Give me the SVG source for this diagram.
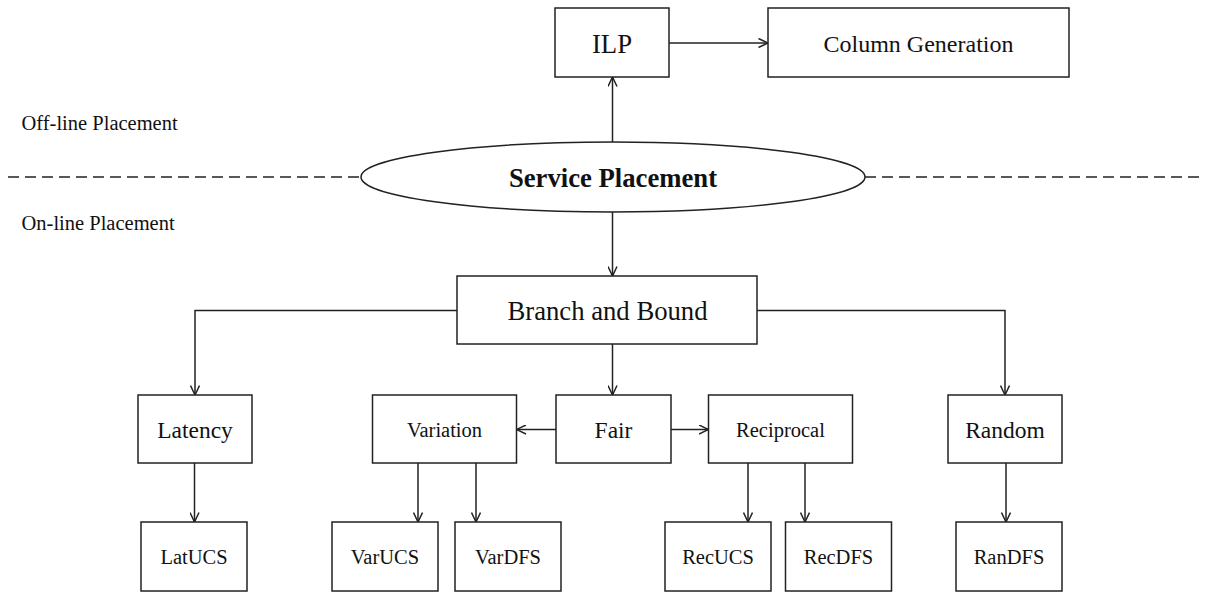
<svg xmlns="http://www.w3.org/2000/svg" width="1211" height="592" viewBox="0 0 1211 592">
  <style>
    .box { fill: #fff; stroke: #222; stroke-width: 1.5; }
    .lbl { font-family: "Liberation Serif", "Times New Roman", serif; fill: #111; text-anchor: middle; }
    .side { font-family: "Liberation Serif", "Times New Roman", serif; fill: #111; font-size: 20.5px; }
    .big { font-size: 26.7px; }
    .mid { font-size: 23.5px; }
    .sml { font-size: 20.5px; }
    .edge { fill: none; stroke: #222; stroke-width: 1.5; marker-end: url(#arrow); }
    .divider { fill: none; stroke: #222; stroke-width: 1.5; stroke-dasharray: 11 6; }
  </style>
  <defs>
    <marker id="arrow" viewBox="0 0 10 10" refX="10" refY="5" markerWidth="10" markerHeight="10" markerUnits="userSpaceOnUse" orient="auto">
      <path d="M0.5,0.5 L10,5 L0.5,9.5" fill="none" stroke="#222" stroke-width="1.5"/>
    </marker>
  </defs>
  <rect width="1211" height="592" fill="#fff"/>

  <!-- off-line / on-line split -->
  <g id="divider">
    <line class="divider" x1="8" y1="177" x2="361" y2="177"/>
    <line class="divider" x1="865" y1="177" x2="1203" y2="177"/>
    <text class="side" x="21.5" y="130">Off-line Placement</text>
    <text class="side" x="21.5" y="229.5">On-line Placement</text>
  </g>

  <g id="connectors">
    <path class="edge" d="M612.5,142 V77"/>
    <path class="edge" d="M669,43 H768"/>
    <path class="edge" d="M612.5,212 V276"/>
    <path class="edge" d="M457,310.5 H195 V395"/>
    <path class="edge" d="M612.5,344 V395"/>
    <path class="edge" d="M757,310.5 H1005 V395"/>
    <path class="edge" d="M556,429.5 H516.5"/>
    <path class="edge" d="M671,429.5 H708.5"/>
    <path class="edge" d="M194.5,463 V522"/>
    <path class="edge" d="M418,463 V522"/>
    <path class="edge" d="M476,463 V522"/>
    <path class="edge" d="M748,463 V522"/>
    <path class="edge" d="M805,463 V522"/>
    <path class="edge" d="M1006,463 V522"/>
  </g>

  <g id="service-placement">
    <ellipse class="box" cx="613" cy="177" rx="252" ry="35"/>
    <text class="lbl big" x="613" y="186.5" font-weight="bold">Service Placement</text>
  </g>
  <g id="ilp">
    <rect class="box" x="555" y="8" width="114" height="69"/>
    <text class="lbl big" x="612" y="53">ILP</text>
  </g>
  <g id="column-generation">
    <rect class="box" x="768" y="8" width="301" height="69"/>
    <text class="lbl" x="918.5" y="51.5" font-size="24">Column Generation</text>
  </g>
  <g id="branch-and-bound">
    <rect class="box" x="457" y="276" width="300" height="68"/>
    <text class="lbl big" x="607.5" y="320">Branch and Bound</text>
  </g>

  <g id="latency">
    <rect class="box" x="138" y="395" width="114" height="68"/>
    <text class="lbl mid" x="195" y="437.5">Latency</text>
  </g>
  <g id="variation">
    <rect class="box" x="372.5" y="395" width="144" height="68"/>
    <text class="lbl sml" x="444.5" y="436.5">Variation</text>
  </g>
  <g id="fair">
    <rect class="box" x="556" y="395" width="115" height="68"/>
    <text class="lbl mid" x="613.5" y="437.5">Fair</text>
  </g>
  <g id="reciprocal">
    <rect class="box" x="708.5" y="395" width="144" height="68"/>
    <text class="lbl sml" x="780.5" y="436.5">Reciprocal</text>
  </g>
  <g id="random">
    <rect class="box" x="948" y="395" width="114" height="68"/>
    <text class="lbl mid" x="1005" y="437.5">Random</text>
  </g>

  <g id="latucs">
    <rect class="box" x="141" y="522" width="106" height="69"/>
    <text class="lbl sml" x="194" y="564">LatUCS</text>
  </g>
  <g id="varucs">
    <rect class="box" x="332" y="522" width="106" height="69"/>
    <text class="lbl sml" x="385" y="564">VarUCS</text>
  </g>
  <g id="vardfs">
    <rect class="box" x="455" y="522" width="106" height="69"/>
    <text class="lbl sml" x="508" y="564">VarDFS</text>
  </g>
  <g id="recucs">
    <rect class="box" x="665" y="522" width="106" height="69"/>
    <text class="lbl sml" x="718" y="564">RecUCS</text>
  </g>
  <g id="recdfs">
    <rect class="box" x="785.5" y="522" width="106" height="69"/>
    <text class="lbl sml" x="838.5" y="564">RecDFS</text>
  </g>
  <g id="randfs">
    <rect class="box" x="956" y="522" width="106" height="69"/>
    <text class="lbl sml" x="1009" y="564">RanDFS</text>
  </g>
</svg>
